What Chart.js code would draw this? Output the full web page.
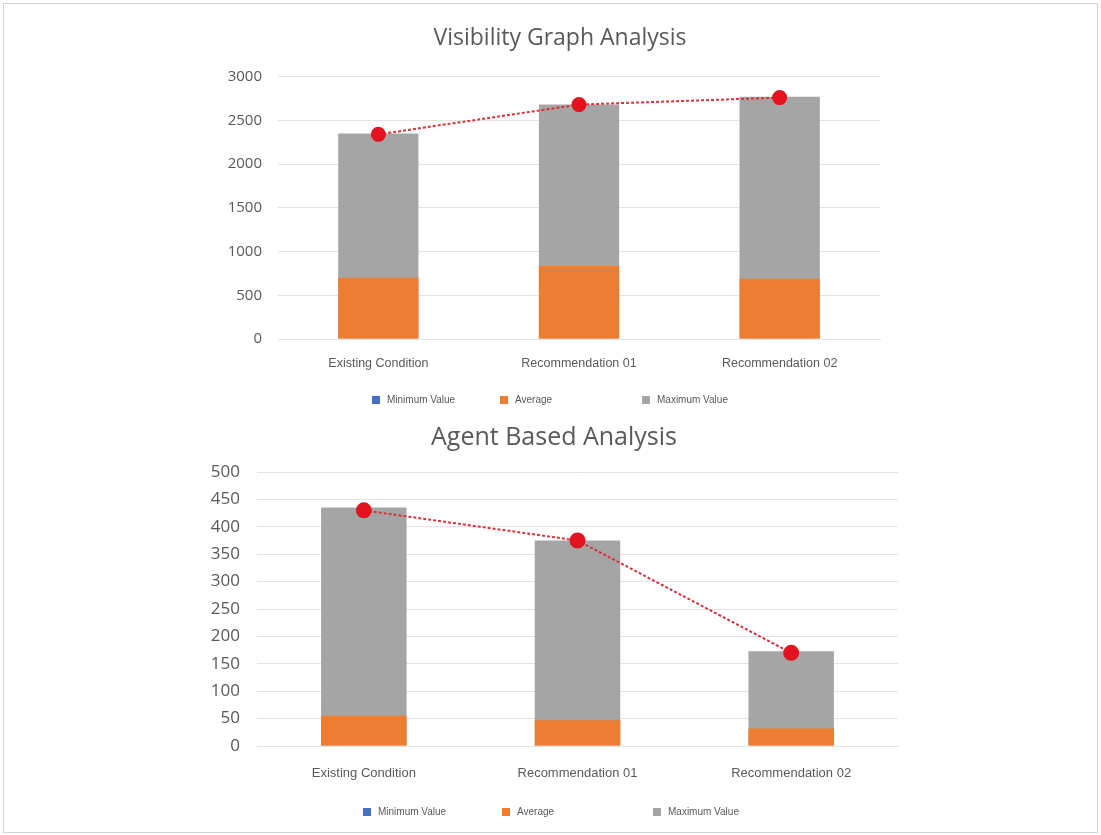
<!DOCTYPE html>
<html>
<head>
<meta charset="utf-8">
<title>Visibility Graph / Agent Based Analysis</title>
<script src="https://cdn.jsdelivr.net/npm/chart.js"></script>
<style>
    body { margin: 0; background: #ffffff; }
    #frame {
        position: absolute; left: 3px; top: 3px;
        width: 1093px; height: 828px;
        border: 1px solid #d4d4d4;
    }
    canvas { position: absolute; }
    #topChart { left: 200px; top: 15px; }
    #bottomChart { left: 180px; top: 415px; }

    /* legends are built from the chart's own legend items */
    .legend {
        position: absolute;
        display: flex;
        font-family: 'Liberation Sans', sans-serif;
        font-size: 10px;
        color: #595959;
        line-height: 14px;
    }
    .legend .item { display: flex; align-items: center; }
    .legend .box { width: 8px; height: 8px; margin-right: 7px; }
    #topLegend { left: 372px; top: 393px; }
    #topLegend .item:nth-child(1) { width: 128px; }
    #topLegend .item:nth-child(2) { width: 142px; }
    #bottomLegend { left: 363px; top: 805px; }
    #bottomLegend .item:nth-child(1) { width: 139px; }
    #bottomLegend .item:nth-child(2) { width: 151px; }
</style>
</head>
<body>
<div id="frame"></div>
<canvas id="topChart" width="720" height="400"></canvas>
<canvas id="bottomChart" width="748" height="413"></canvas>
<div id="topLegend" class="legend"></div>
<div id="bottomLegend" class="legend"></div>

<script>
// Categories shared by both charts
const categories = ["Existing Condition", "Recommendation 01", "Recommendation 02"];

// Visibility Graph Analysis (top chart)
const vgaMinimum = [0, 0, 0];
const vgaAverage = [700, 835, 690];
const vgaMaximum = [2350, 2680, 2770];
const vgaTrend = [2340, 2680, 2760];
const vgaTicks = [0, 500, 1000, 1500, 2000, 2500, 3000];

// Agent Based Analysis (bottom chart)
const abaMinimum = [0, 0, 0];
const abaAverage = [55, 47, 32];
const abaMaximum = [435, 375, 173];
const abaTrend = [430, 375, 170];
const abaTicks = [0, 50, 100, 150, 200, 250, 300, 350, 400, 450, 500];

const textGray = '#595959';
const gridGray = '#e3e3e3';

function makeChart(canvasId, title, minData, avgData, maxData, trendData, tickList, s) {
    const ctx = document.getElementById(canvasId).getContext('2d');

    return new Chart(ctx, {
        data: {
            labels: categories,
            datasets: [
                // index 0 is drawn last, so the legend order also gives the overlap we want
                { type: 'bar', label: 'Minimum Value', data: minData, backgroundColor: '#4472c4' },
                { type: 'bar', label: 'Average', data: avgData, backgroundColor: '#ed7d31' },
                { type: 'bar', label: 'Maximum Value', data: maxData, backgroundColor: '#a5a5a5' },
                {
                    type: 'line',
                    label: 'trend',
                    data: trendData,
                    order: -1,
                    borderColor: '#d9323a',
                    borderWidth: 2,
                    borderDash: [3, 2],
                    pointRadius: s.dot,
                    pointBackgroundColor: '#e3141f',
                    pointBorderColor: '#e3141f',
                    fill: false,
                    tension: 0
                }
            ]
        },
        options: {
            responsive: false,
            animation: false,
            layout: { padding: { left: s.pad, right: s.pad, top: 0, bottom: s.padBottom } },
            datasets: { bar: { barPercentage: 0.4, categoryPercentage: 1 } },
            plugins: {
                tooltip: { enabled: false },
                legend: { display: false },
                title: {
                    display: true,
                    text: title,
                    color: textGray,
                    font: { family: 'Open Sans', size: s.titleSize, weight: 'normal' },
                    padding: { top: s.titleTop, bottom: s.titleBottom }
                }
            },
            scales: {
                x: {
                    stacked: true,
                    grid: { display: false, drawTicks: false },
                    border: { color: gridGray },
                    ticks: {
                        color: textGray,
                        padding: s.xPad,
                        font: { family: 'Liberation Sans', size: s.xSize }
                    },
                    afterFit: scale => { scale.width = scale.width; scale.height = s.xHeight; }
                },
                y: {
                    stacked: false,
                    min: 0,
                    max: tickList[tickList.length - 1],
                    afterBuildTicks: scale => {
                        scale.ticks = tickList.map(v => ({ value: v }));
                    },
                    grid: { color: gridGray, drawTicks: false },
                    border: { display: false },
                    ticks: {
                        color: textGray,
                        padding: s.yPad,
                        font: { family: 'Open Sans', size: s.ySize },
                        callback: value => String(value)   // no thousands separator
                    },
                    afterFit: scale => { scale.width = s.yWidth; }
                },
                // empty right axis, only used as a gap so the title stays centred
                gap: {
                    position: 'right',
                    grid: { display: false, drawTicks: false },
                    border: { display: false },
                    ticks: { display: false },
                    afterFit: scale => { scale.width = s.rightGap; }
                }
            }
        }
    });
}

// Fill an html legend from the chart's own legend items (bars only)
function buildLegend(chart, legendId) {
    const box = document.getElementById(legendId);
    const items = Chart.defaults.plugins.legend.labels.generateLabels(chart)
        .filter(item => item.datasetIndex < 3);

    items.forEach(item => {
        const row = document.createElement('div');
        row.className = 'item';
        const swatch = document.createElement('span');
        swatch.className = 'box';
        swatch.style.background = item.fillStyle;
        const label = document.createElement('span');
        label.textContent = item.text;
        row.appendChild(swatch);
        row.appendChild(label);
        box.appendChild(row);
    });
}

const topChart = makeChart('topChart', 'Visibility Graph Analysis', vgaMinimum, vgaAverage, vgaMaximum, vgaTrend, vgaTicks, {
    titleSize: 23, titleTop: 10, titleBottom: 24,
    xPad: 17, xHeight: 46, xSize: 12.5, yPad: 16, yWidth: 52, ySize: 15,
    pad: 26, rightGap: 14, padBottom: 30, dot: 6.5
});

const bottomChart = makeChart('bottomChart', 'Agent Based Analysis', abaMinimum, abaAverage, abaMaximum, abaTrend, abaTicks, {
    titleSize: 25, titleTop: 8, titleBottom: 19,
    xPad: 20, xHeight: 52, xSize: 13, yPad: 17, yWidth: 47, ySize: 17,
    pad: 30, rightGap: 0, padBottom: 30, dot: 7
});

buildLegend(topChart, 'topLegend');
buildLegend(bottomChart, 'bottomLegend');
</script>
</body>
</html>
